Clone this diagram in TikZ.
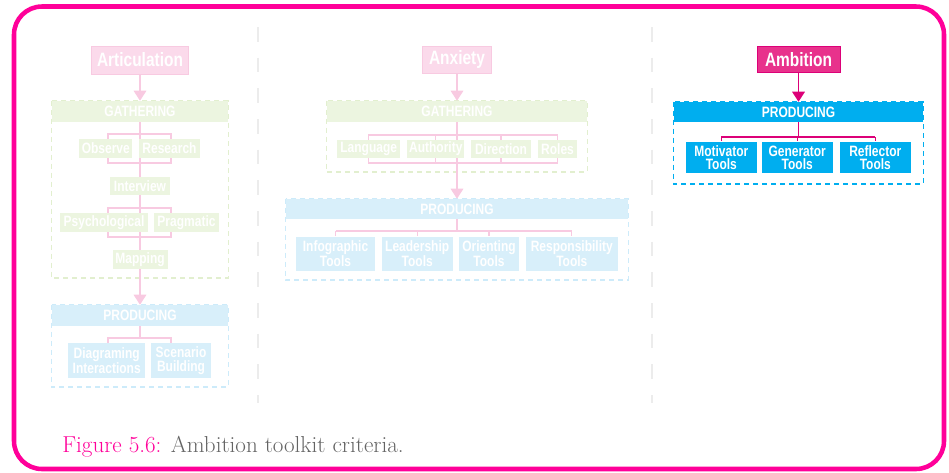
\documentclass[tikz,border=0pt]{standalone}
\usepackage{fontspec}
\usepackage{tikz}
\usetikzlibrary{arrows.meta,backgrounds}

\newfontfamily\condsf[FakeStretch=0.8]{Liberation Sans}

\definecolor{framemag}{RGB}{255,0,153}
\definecolor{capgray}{RGB}{100,100,100}
\definecolor{sepgray}{RGB}{236,236,236}
\definecolor{palepink}{RGB}{251,218,235}
\definecolor{palepinkline}{RGB}{248,202,225}
\definecolor{palegreen}{RGB}{236,245,224}
\definecolor{palegreenline}{RGB}{226,239,207}
\definecolor{paleblue}{RGB}{216,239,250}
\definecolor{palebilue}{RGB}{205,235,250}
\definecolor{magfill}{RGB}{232,50,140}
\definecolor{magline}{RGB}{220,0,120}
\definecolor{cyanbox}{RGB}{0,174,239}

\tikzset{
  titlebox/.style={fill=#1, text=white, inner sep=0pt, font=\condsf\bfseries\fontsize{14.5}{16}\selectfont},
  barbox/.style={fill=#1, text=white, inner sep=0pt, font=\condsf\bfseries\fontsize{11.25}{13}\selectfont},
  toolbox/.style={fill=#1, text=white, inner sep=0pt, align=center, font=\condsf\bfseries\fontsize{11.25}{10}\selectfont},
  dashframe/.style={draw=#1, line width=0.9pt, dash pattern=on 3.75pt off 3pt},
  link/.style={draw=#1, line width=0.9pt},
  arrowlink/.style={link=#1, -{Triangle[width=9.5pt,length=7.5pt]}},
  sepline/.style={draw=sepgray, line width=1.1pt, dash pattern=on 11pt off 12pt},
}

\begin{document}
\begin{tikzpicture}[x=0.75pt,y=0.75pt,yscale=-1,xscale=1]
\useasboundingbox (0,0) rectangle (949,472);

%Rounded Rect
\draw[framemag, line width=3.4pt, rounded corners=21pt] (14,6.5) rectangle (944,469);
%Straight Lines
\draw[sepline] (258,27) -- (258,403);
\draw[sepline] (652,27) -- (652,403);

% Articulation
\node[titlebox=palepink, draw=palepinkline, minimum width=72.75pt, minimum height=21pt] (art) at (140,60) {Articulation};
\node[barbox=palegreen, minimum width=132pt, minimum height=15.75pt] (gath1) at (140,111.5) {GATHERING};
\node[toolbox=palegreen, minimum width=39.75pt, minimum height=14.25pt] (obs) at (105.8,148.5) {Observe};
\node[toolbox=palegreen, minimum width=45.75pt, minimum height=14.25pt] (res) at (169.5,148.5) {Research};
\node[toolbox=palegreen, minimum width=45pt, minimum height=13.5pt] (inter) at (140,186) {Interview};
\node[toolbox=palegreen, minimum width=66pt, minimum height=14.25pt] (psy) at (104,222.5) {Psychological};
\node[toolbox=palegreen, minimum width=48.75pt, minimum height=14.25pt] (prag) at (186.5,222.5) {Pragmatic};
\node[toolbox=palegreen, minimum width=41.25pt, minimum height=14.25pt] (map) at (140,259.5) {Mapping};
\node[barbox=paleblue, minimum width=132pt, minimum height=15.75pt] (prod1) at (140,315.5) {PRODUCING};
\node[toolbox=paleblue, minimum width=57.75pt, minimum height=26.25pt] (diag) at (106.7,360.5) {Diagraming\\Interactions};
\node[toolbox=paleblue, minimum width=45pt, minimum height=26.25pt] (scen) at (181,360.5) {Scenario\\Building};

% Anxiety
\node[titlebox=palepink, draw=palepinkline, minimum width=51.75pt, minimum height=20.6pt] (anx) at (457,59.7) {Anxiety};
\node[barbox=palegreen, minimum width=195pt, minimum height=15.75pt] (gath2) at (457,111.5) {GATHERING};
\node[toolbox=palegreen, minimum width=47.25pt, minimum height=13.9pt] (lang) at (368.7,149) {Language};
\node[toolbox=palegreen, minimum width=42.75pt, minimum height=13.9pt] (auth) at (435.8,149) {Authority};
\node[toolbox=palegreen, minimum width=45pt, minimum height=13.9pt] (dir) at (501,149) {Direction};
\node[toolbox=palegreen, minimum width=28.9pt, minimum height=13.9pt] (roles) at (557.5,149) {Roles};
\node[barbox=paleblue, minimum width=256.5pt, minimum height=15pt] (prod2) at (457,209) {PRODUCING};
\node[toolbox=paleblue, minimum width=59.25pt, minimum height=25.5pt] (info) at (335.5,253.7) {Infographic\\Tools};
\node[toolbox=paleblue, minimum width=53.25pt, minimum height=25.5pt] (lead) at (417.2,253.7) {Leadership\\Tools};
\node[toolbox=paleblue, minimum width=45pt, minimum height=25.5pt] (orient) at (489,253.7) {Orienting\\Tools};
\node[toolbox=paleblue, minimum width=68.75pt, minimum height=25.5pt] (resp) at (571.8,253.7) {Responsibility\\Tools};

% Ambition
\node[titlebox=magfill, draw=magline, minimum width=62.25pt, minimum height=19.5pt] (amb) at (798.5,59.7) {Ambition};
\node[barbox=cyanbox, minimum width=186.75pt, minimum height=15pt] (prod3) at (798.5,112) {PRODUCING};
\node[toolbox=cyanbox, minimum width=53pt, minimum height=23.7pt] (mot) at (721.3,157.5) {Motivator\\Tools};
\node[toolbox=cyanbox, minimum width=53.25pt, minimum height=23.7pt] (gen) at (797.2,157.5) {Generator\\Tools};
\node[toolbox=cyanbox, minimum width=53pt, minimum height=23.7pt] (refl) at (875.3,157.5) {Reflector\\Tools};

% Text Node
\node[anchor=base west, inner sep=0pt, font=\fontsize{17.3}{20}\selectfont] (cap) at (62,452)
  {\textcolor{framemag}{Figure 5.6:} \textcolor{capgray}{Ambition toolkit criteria.}};

\begin{scope}[on background layer]
% frames under the bars
\coordinate (f1) at (0,278);
\coordinate (f2) at (0,387);
\coordinate (f3) at (0,172);
\coordinate (f4) at (0,280);
\coordinate (f5) at (0,184);
\draw[dashframe=palegreenline] (gath1.north west) rectangle (gath1.east |- f1);
\draw[dashframe=palebilue] (prod1.north west) rectangle (prod1.east |- f2);
\draw[dashframe=palegreenline] (gath2.north west) rectangle (gath2.east |- f3);
\draw[dashframe=palebilue] (prod2.north west) rectangle (prod2.east |- f4);
\draw[dashframe=cyanbox] (prod3.north west) rectangle (prod3.east |- f5);

% Articulation links
\draw[arrowlink=palepinkline] (art.south) -- (gath1.north);
\draw[link=palepinkline] (gath1.south) -- (inter.north);
\draw[link=palepinkline] (108,134) rectangle (171,163);
\draw[link=palepinkline] (inter.south) -- (map.north);
\draw[link=palepinkline] (108,208) rectangle (171,237);
\draw[arrowlink=palepinkline] (map.south) -- (prod1.north);
\coordinate (k1) at (108,338);
\coordinate (k2) at (171,338);
\draw[link=palepinkline] (prod1.south) -- (prod1.south |- k1);
\draw[link=palepinkline] (diag.north -| k1) -- (k1) -- (k2) -- (scen.north -| k2);

% Anxiety links
\coordinate (t2) at (0,135);
\coordinate (b2) at (0,163);
\draw[arrowlink=palepinkline] (anx.south) -- (gath2.north);
\draw[arrowlink=palepinkline] (gath2.south) -- (prod2.north);
\draw[link=palepinkline] (lang.center |- t2) rectangle (roles.center |- b2);
\foreach \b in {auth,dir}
  \draw[link=palepinkline] (\b.center |- t2) -- (\b.center |- b2);
\coordinate (k3) at (457,231);
\draw[link=palepinkline] (prod2.south) -- (k3);
\draw[link=palepinkline] (info.north |- k3) -- (resp.north |- k3);
\foreach \b in {info,lead,orient,resp}
  \draw[link=palepinkline] (\b.north |- k3) -- (\b.north);

% Ambition links
\draw[arrowlink=magline] (amb.south) -- (prod3.north);
\coordinate (k4) at (798.5,137);
\draw[link=magline] (prod3.south) -- (k4);
\draw[link=magline] (mot.north |- k4) -- (refl.north |- k4);
\foreach \b in {mot,gen,refl}
  \draw[link=magline] (\b.north |- k4) -- (\b.north);
\end{scope}

\end{tikzpicture}
\end{document}
